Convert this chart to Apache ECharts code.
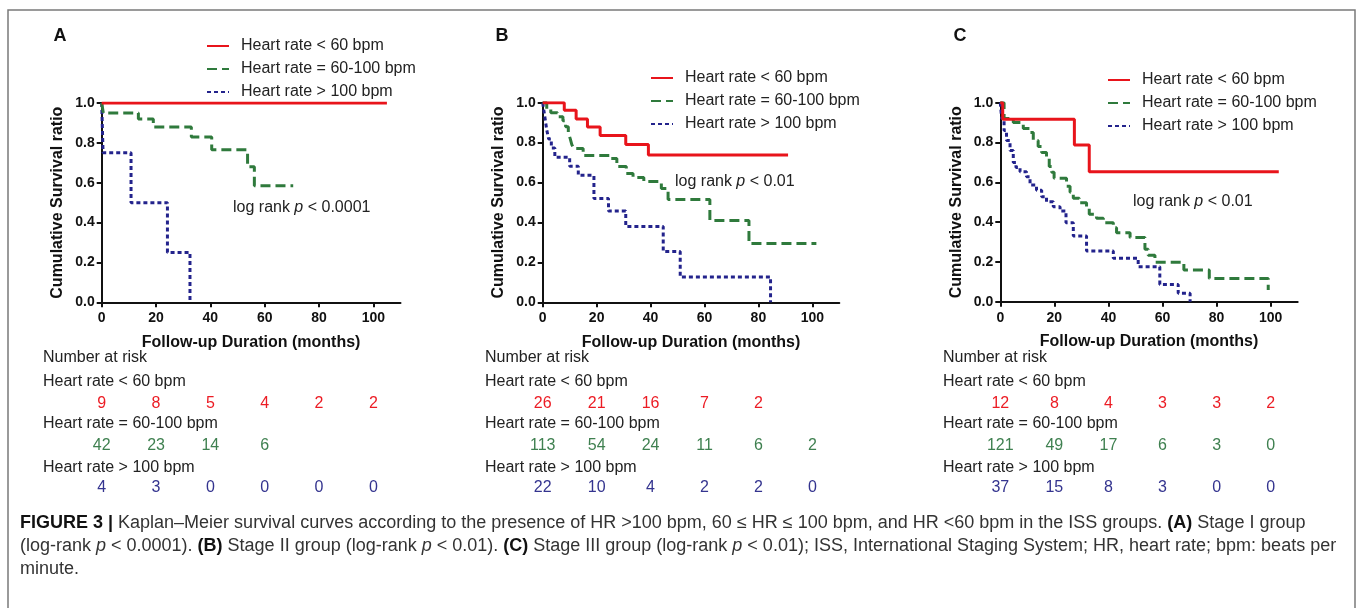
<!DOCTYPE html>
<html>
<head>
<meta charset="utf-8">
<script src="https://cdn.jsdelivr.net/npm/echarts@6/dist/echarts.min.js"></script>
<style>
  html, body { margin: 0; padding: 0; background: #fff; }
  #main { width: 1357px; height: 608px; }
</style>
</head>
<body>
<div id="main"></div>
<script>
const groups = ["Heart rate < 60 bpm", "Heart rate = 60-100 bpm", "Heart rate > 100 bpm"]
const xTicks = [0, 20, 40, 60, 80, 100]
const panelLetters = ["A", "B", "C"]
const logRankText = ["< 0.0001", "< 0.01", "< 0.01"]

// Stage I
const aLow = [[0, 1], [105, 1]]
const aMid = [[0, 1], [0.6, 0.95], [13.5, 0.92], [19, 0.88], [33, 0.83], [40.5, 0.765], [53.7, 0.68], [56.2, 0.585], [70.5, 0.585]]
const aHigh = [[0, 1], [0.5, 0.75], [10.8, 0.5], [24.2, 0.25], [32.5, 0]]

// Stage II
const bLow = [[0, 1], [8, 0.962], [12.4, 0.918], [16.6, 0.878], [21.3, 0.836], [30.8, 0.79], [39.2, 0.738], [91, 0.738]]
const bMid = [[0, 1], [1.5, 0.97], [3, 0.95], [5.5, 0.93], [7.5, 0.91], [8.5, 0.88], [9.5, 0.85], [10.2, 0.82], [10.8, 0.79],
  [11.5, 0.77], [15, 0.735], [25, 0.72], [27.5, 0.68], [31, 0.645], [33.5, 0.625], [37.5, 0.605], [44, 0.57], [46.5, 0.515],
  [62, 0.41], [76.5, 0.295], [101.5, 0.295]]
const bHigh = [[0, 1], [0.5, 0.955], [1, 0.91], [1.5, 0.864], [2.2, 0.818], [3.2, 0.773], [4.5, 0.727], [10, 0.682], [13.2, 0.636],
  [19, 0.52], [24.4, 0.457], [30.8, 0.38], [44.7, 0.254], [51, 0.127], [84.5, 0]]

// Stage III
const cLow = [[0, 1], [0.9, 0.917], [27.4, 0.787], [32.9, 0.653], [103, 0.653]]
const cMid = [[0, 1], [1.4, 0.92], [4.8, 0.9], [8.5, 0.87], [11, 0.85], [12.2, 0.81], [14, 0.78], [15.3, 0.75], [17.1, 0.728],
  [18.1, 0.68], [19, 0.65], [19.9, 0.62], [24.5, 0.58], [25.8, 0.55], [27, 0.52], [29.2, 0.497], [31.9, 0.47], [32.9, 0.44],
  [35.6, 0.419], [38.1, 0.397], [41.8, 0.372], [43, 0.347], [48, 0.322], [53.5, 0.263], [54.7, 0.234], [57.2, 0.198],
  [67.9, 0.159], [77.3, 0.116], [99.1, 0.059], [99.3, 0.059]]
const cHigh = [[0, 1], [0.5, 0.92], [1.4, 0.86], [2.3, 0.81], [3.6, 0.76], [4.8, 0.7], [5.8, 0.675], [7.3, 0.653], [9.7, 0.628],
  [11, 0.586], [13.4, 0.56], [15.3, 0.528], [17.1, 0.502], [19.6, 0.477], [22.1, 0.456], [24.3, 0.397], [27, 0.33],
  [31.9, 0.255], [41.8, 0.218], [51, 0.176], [59, 0.087], [65.8, 0.042], [70.2, 0]]

// number at risk, per panel: [<60, 60-100, >100]
const riskA = [[9, 8, 5, 4, 2, 2], [42, 23, 14, 6], [4, 3, 0, 0, 0, 0]]
const riskB = [[26, 21, 16, 7, 2], [113, 54, 24, 11, 6, 2], [22, 10, 4, 2, 2, 0]]
const riskC = [[12, 8, 4, 3, 3, 2], [121, 49, 17, 6, 3, 0], [37, 15, 8, 3, 0, 0]]

const curves = [[aLow, aMid, aHigh], [bLow, bMid, bHigh], [cLow, cMid, cHigh]]
const risks = [riskA, riskB, riskC]

// layout
const FONT = "Liberation Sans, Arial, Helvetica, sans-serif"
const lineColors = ["#e8141b", "#2f7a3c", "#23238c"]
const numColors = ["#ec1c24", "#3f8050", "#34348f"]
const dashes = ["solid", [10, 5], [4, 3]]
const panels = [
  {left: 101.7, top: 103, width: 298.8, height: 199.3, letter: [60, 36], legend: [206, 38], logrank: [233, 208], tableX: 43},
  {left: 542.7, top: 102.7, width: 296.6, height: 199.6, letter: [502, 36], legend: [650, 70], logrank: [675, 182], tableX: 485},
  {left: 1000.3, top: 102.7, width: 297.4, height: 199, letter: [960, 36], legend: [1107, 72], logrank: [1133, 202], tableX: 943}
]
const rowY = [358, 381.7, 403.3, 423.3, 446, 468, 488]

const axisColor = "#111"
const tickFont = {fontSize: 14, fontWeight: "bold", color: axisColor, fontFamily: FONT}
const nameFont = {fontSize: 16, fontWeight: "bold", color: axisColor, fontFamily: FONT}

const chart = echarts.init(document.getElementById("main"))

const series = []
curves.forEach((set, p) => set.forEach((d, g) => {
  series.push({
    name: groups[g],
    type: "line",
    step: "end",
    xAxisIndex: p,
    yAxisIndex: p,
    data: d,
    symbol: "none",
    silent: true,
    animation: false,
    z: 5 - g,
    lineStyle: {color: lineColors[g], width: 3, type: dashes[g]},
    itemStyle: {color: lineColors[g]}
  })
}))

chart.setOption({
  animation: false,
  grid: panels.map(p => ({left: p.left, top: p.top, width: p.width, height: p.height, outerBoundsMode: "none"})),
  legend: panels.map(p => ({
    data: groups,
    orient: "vertical",
    left: p.legend[0],
    top: p.legend[1],
    padding: 0,
    itemWidth: 22,
    itemHeight: 14,
    itemGap: 7,
    selectedMode: false,
    itemStyle: {opacity: 0},
    textStyle: {fontSize: 16, color: "#222", fontFamily: FONT, padding: [0, 0, 0, 7]}
  })),
  xAxis: panels.map((p, i) => ({
    gridIndex: i,
    type: "value",
    min: 0,
    max: 110,
    interval: 20,
    axisLine: {lineStyle: {color: axisColor, width: 2}},
    axisTick: {length: 5, lineStyle: {color: axisColor, width: 2}, customValues: xTicks},
    axisLabel: Object.assign({customValues: xTicks, margin: 9}, tickFont),
    splitLine: {show: false},
    name: "Follow-up Duration (months)",
    nameLocation: "middle",
    nameGap: 32,
    nameTextStyle: nameFont
  })),
  yAxis: panels.map((p, i) => ({
    gridIndex: i,
    type: "value",
    min: 0,
    max: 1,
    interval: 0.2,
    axisLine: {show: true, lineStyle: {color: axisColor, width: 2}},
    axisTick: {show: true, length: 5, lineStyle: {color: axisColor, width: 2}},
    axisLabel: Object.assign({margin: 7, formatter: v => v.toFixed(1)}, tickFont),
    splitLine: {show: false},
    name: "Cumulative Survival ratio",
    nameLocation: "middle",
    nameRotate: 90,
    nameGap: 36,
    nameTextStyle: nameFont
  })),
  series
})

// texts: letters, log rank notes, number at risk tables, caption
const graphic = []
graphic.push({
  type: "rect", silent: true,
  shape: {x: 8, y: 10, width: 1347, height: 640},
  style: {fill: "none", stroke: "#7a7a7a", lineWidth: 1.5}
})

const plainFont = {fontSize: 16, fontFamily: FONT, fill: "#222"}

panels.forEach((p, i) => {
  graphic.push({
    type: "text", silent: true, x: p.letter[0], y: p.letter[1],
    style: {text: panelLetters[i], fontSize: 18, fontWeight: "bold", fontFamily: FONT, fill: "#111", align: "center", verticalAlign: "middle"}
  })
  graphic.push({
    type: "text", silent: true, x: p.logrank[0], y: p.logrank[1],
    style: {
      text: "log rank {i|p} " + logRankText[i],
      fontSize: 16, fontFamily: FONT, fill: "#222", verticalAlign: "middle",
      rich: {i: {fontSize: 16, fontFamily: FONT, fontStyle: "italic", fill: "#222"}}
    }
  })
  const labels = ["Number at risk", groups[0], null, groups[1], null, groups[2], null]
  labels.forEach((t, r) => {
    if (!t) return
    graphic.push({
      type: "text", silent: true, x: p.tableX, y: rowY[r],
      style: Object.assign({text: t, verticalAlign: "middle"}, plainFont)
    })
  })
  risks[i].forEach((row, g) => {
    row.forEach((n, k) => {
      const x = chart.convertToPixel({xAxisIndex: i}, xTicks[k])
      graphic.push({
        type: "text", silent: true, x: x, y: rowY[2 + g * 2],
        style: {text: String(n), fontSize: 16, fontFamily: FONT, fill: numColors[g], align: "center", verticalAlign: "middle"}
      })
    })
  })
})

const capSize = 18
const captionRich = {
  b: {fontSize: capSize, fontFamily: FONT, fontWeight: "bold", fill: "#111"},
  i: {fontSize: capSize, fontFamily: FONT, fontStyle: "italic", fill: "#333"}
}
const captionLines = [
  "{b|FIGURE 3 |} Kaplan–Meier survival curves according to the presence of HR >100 bpm, 60 ≤ HR ≤ 100 bpm, and HR <60 bpm in the ISS groups. {b|(A)} Stage I group",
  "(log-rank {i|p} < 0.0001). {b|(B)} Stage II group (log-rank {i|p} < 0.01). {b|(C)} Stage III group (log-rank {i|p} < 0.01); ISS, International Staging System; HR, heart rate; bpm: beats per",
  "minute."
]
captionLines.forEach((t, k) => {
  graphic.push({
    type: "text", silent: true, x: 20, y: 523 + k * 23,
    style: {text: t, fontSize: capSize, fontFamily: FONT, fill: "#333", verticalAlign: "middle", rich: captionRich}
  })
})

chart.setOption({graphic})
</script>
</body>
</html>
